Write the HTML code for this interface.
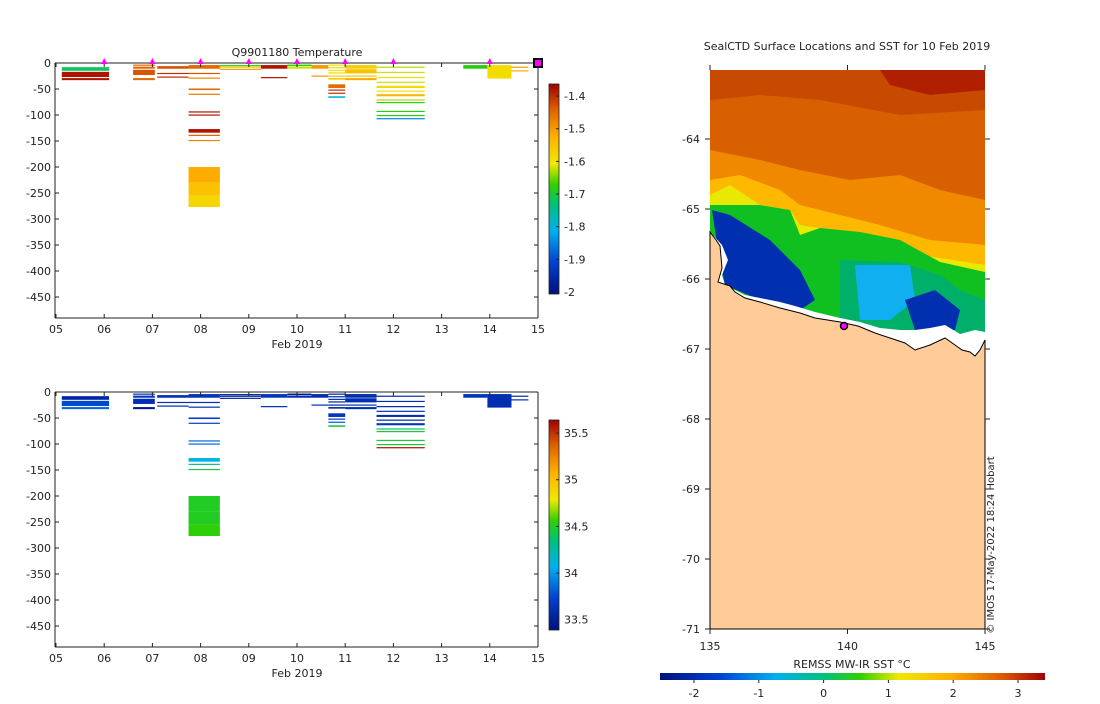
<!DOCTYPE html>
<html><head><meta charset="utf-8">
<style>
body{margin:0;background:#fff;width:1100px;height:700px;overflow:hidden;font-family:"DejaVu Sans","Liberation Sans",sans-serif;}
svg text{font-family:"DejaVu Sans","Liberation Sans",sans-serif;font-size:11px;fill:#222;}
</style></head>
<body>
<svg id="fig" width="1100" height="700" xmlns="http://www.w3.org/2000/svg">
<defs>
<linearGradient id="tempbar" x1="0" y1="1" x2="0" y2="0">
<stop offset="0" stop-color="#00107a"/><stop offset="0.15" stop-color="#0040d0"/><stop offset="0.3" stop-color="#00b0f0"/><stop offset="0.42" stop-color="#00c080"/><stop offset="0.52" stop-color="#30d000"/><stop offset="0.62" stop-color="#f0e800"/><stop offset="0.75" stop-color="#ffb000"/><stop offset="0.88" stop-color="#e06000"/><stop offset="1" stop-color="#a00000"/>
</linearGradient>
<linearGradient id="sstbar" x1="0" y1="0" x2="1" y2="0">
<stop offset="0" stop-color="#00107a"/><stop offset="0.15" stop-color="#0040d0"/><stop offset="0.3" stop-color="#00b0f0"/><stop offset="0.42" stop-color="#00c080"/><stop offset="0.52" stop-color="#30d000"/><stop offset="0.62" stop-color="#f0e800"/><stop offset="0.75" stop-color="#ffb000"/><stop offset="0.88" stop-color="#e06000"/><stop offset="1" stop-color="#a00000"/>
</linearGradient>
</defs>
<g id="top"></g>
<g id="bot"></g>
<g id="map">
<rect x="710" y="70" width="275" height="559" fill="#d86000"/>
<polygon points="710,70 985,70 985,110 900,115 820,100 760,95 710,100" fill="#c84a00"/>
<polygon points="880,70 985,70 985,90 930,95 890,85" fill="#b02000"/>
<polygon points="710,150 760,160 800,170 850,180 900,175 940,190 985,200 985,260 710,260" fill="#f08800"/>
<polygon points="710,180 740,175 780,190 800,205 840,215 880,225 930,240 985,245 985,320 710,320" fill="#ffb800"/>
<polygon points="710,195 730,185 760,205 790,210 800,225 830,230 870,240 920,255 985,265 985,320 710,320" fill="#e8e800"/>
<polygon points="710,205 760,205 790,210 800,235 820,228 860,232 900,240 940,262 985,272 985,340 710,340" fill="#10c020"/>
<polygon points="840,260 900,262 940,275 960,290 985,300 985,340 840,340" fill="#00b068"/>
<polygon points="855,265 910,265 915,300 890,320 860,320" fill="#10b0f0"/>
<polygon points="712,210 730,215 770,240 800,270 815,300 800,310 760,300 725,285 718,250" fill="#0030b0"/>
<polygon points="905,300 935,290 960,310 955,330 915,330" fill="#0030b0"/>
<polygon points="710,232 716,240 720,246 722,268 718,282 730,286 735,292 745,298 760,302 780,308 800,313 815,318 840,322 858,326 875,333 890,338 905,343 915,350 930,345 945,338 955,345 962,350 970,352 975,356 980,350 985,340 985,332 975,330 960,334 945,325 930,328 915,330 900,330 880,328 860,322 840,318 815,312 795,306 780,302 760,298 745,295 735,290 725,285 722,275 728,260 722,245" fill="#fff"/>
<polygon points="710,232 716,240 720,246 722,268 718,282 730,286 735,292 745,298 760,302 780,308 800,313 815,318 840,322 858,326 875,333 890,338 905,343 915,350 930,345 945,338 955,345 962,350 970,352 975,356 980,350 985,340 985,629 710,629" fill="#ffcc99" stroke="#000" stroke-width="1"/>
<circle cx="844" cy="326" r="3.5" fill="#ff00ff" stroke="#000" stroke-width="1.5"/>
<rect x="710" y="70" width="275" height="559" fill="none"/>
<text x="847" y="50" text-anchor="middle">SealCTD Surface Locations and SST for 10 Feb 2019</text>
<text transform="translate(994,545) rotate(-90)" text-anchor="middle" style="font-size:10px">© IMOS 17-May-2022 18:24 Hobart</text>
<rect x="660" y="673" width="385" height="7" fill="url(#sstbar)"/>
<text x="852" y="668" text-anchor="middle">REMSS MW-IR SST °C</text>
</g>
<g id="mapaxes"></g>
</svg>
<script>
// Profile data: time spans (days after Feb 05) and levels
const profStart=[0.12,1.6,2.1,2.75,3.4,4.25,4.8,5.3,5.65,6.0,6.65,8.45,8.95,9.45];
const profEnd=[1.1,2.05,2.75,3.4,4.25,4.8,5.3,5.65,6.0,6.65,7.65,8.95,9.45,9.8];
const levProf=[0,0,0, 1,1,1,1, 2,2,2, 3,3,3,3,3,3,3,3,3,3,3,3,3, 4,4,4, 5,5, 6,6, 7,7, 8,8,8,8,8,8,8,8,8,8, 9,9,9,9, 10,10,10,10,10,10,10,10,10,10,10,10, 11, 12, 13,13];
const levTop=[8,17,29, 3,7,13,29, 6,19,26, 4,19,28,49,59,93,99,127,138,148,200,230,255, 4,7,11, 4,27, 3,7, 4,24, 3,8,13,18,24,29,41,51,57,64, 4,12,24,29, 7,17,27,36,44,53,60,70,75,92,100,106, 4, 4, 7,14];
const levBot=[15,27,33, 5,11,23,33, 11,21,28, 11,21,30,52,61,95,101,134,140,150,230,255,277, 6,9,13, 11,29, 6,11, 11,26, 5,9,14,19,26,32,48,53,59,67, 11,20,26,33, 9,19,29,38,48,55,64,72,77,94,102,108, 11, 30, 9,16];
const levTemp=[-1.72,-1.38,-1.38, -1.45,-1.45,-1.43,-1.45, -1.43,-1.40,-1.40, -1.45,-1.43,-1.48,-1.45,-1.46,-1.38,-1.38,-1.38,-1.44,-1.48,-1.52,-1.55,-1.58, -1.68,-1.58,-1.5, -1.38,-1.38, -1.67,-1.62, -1.5,-1.5, -1.6,-1.58,-1.6,-1.58,-1.57,-1.56,-1.45,-1.40,-1.40,-1.8, -1.57,-1.55,-1.55,-1.52, -1.63,-1.62,-1.60,-1.62,-1.58,-1.60,-1.53,-1.63,-1.68,-1.68,-1.68,-1.85, -1.68, -1.59, -1.5,-1.52];
const levSal=[33.55,33.75,33.85, 33.6,33.65,33.6,33.45, 33.6,33.6,33.6, 33.65,33.6,33.6,33.7,33.7,33.85,33.85,34.1,34.3,34.45,34.5,34.5,34.55, 33.5,33.5,33.55, 33.65,33.6, 33.45,33.6, 33.6,33.6, 33.55,33.55,33.6,33.55,33.55,33.5,33.65,33.7,33.8,34.45, 33.6,33.6,33.6,33.6, 33.6,33.6,33.55,33.6,33.6,33.55,33.65,34.4,34.45,34.45,34.45,35.6, 33.65, 33.6, 33.6,33.6];
const markerDays=[1,2,3,4,5,6,7,9];
const tempTicks=[-1.4,-1.5,-1.6,-1.7,-1.8,-1.9,-2];
const salTicks=[35.5,35,34.5,34];
const salTickLabels=['35.5','35','34.5','34','33.5'];
const depthTicks=[0,-50,-100,-150,-200,-250,-300,-350,-400,-450];
const dayLabels=['05','06','07','08','09','10','11','12','13','14','15'];
const sstTicks=[-2,-1,0,1,2,3];
const latTicks=[-64,-65,-66,-67,-68,-69,-70,-71];
const lonTicks=[135,140,145];

const NS='http://www.w3.org/2000/svg';
function mk(tag,attrs,parent){const e=document.createElementNS(NS,tag);for(const k in attrs)e.setAttribute(k,attrs[k]);parent.appendChild(e);return e;}
const stops=[[0,[0,16,122]],[0.15,[0,64,208]],[0.3,[0,176,240]],[0.42,[0,192,128]],[0.52,[48,208,0]],[0.62,[240,232,0]],[0.75,[255,176,0]],[0.88,[224,96,0]],[1,[160,0,0]]];
function cmap(f){f=Math.max(0,Math.min(1,f));for(let i=1;i<stops.length;i++){if(f<=stops[i][0]){const a=stops[i-1],b=stops[i];const t=(f-a[0])/(b[0]-a[0]);const c=a[1].map((v,j)=>Math.round(v+(b[1][j]-v)*t));return 'rgb('+c.join(',')+')';}}return 'rgb(160,0,0)';}
const xDay=d=>56+d*48.2;

function panel(gid,y0,vmin,vmax,cbTop,cbBot,vals,ticks,tickLabels,title,prefix){
  const g=document.getElementById(gid);
  const yD=d=>y0+d*0.52;
  const bottom=y0+255;
  for(let i=0;i<levProf.length;i++){
    const p=levProf[i];
    const r=mk('rect',{x:xDay(profStart[p]),y:yD(levTop[i]),width:xDay(profEnd[p])-xDay(profStart[p]),height:Math.max(1.2,yD(levBot[i])-yD(levTop[i])),fill:cmap((vals[i]-vmin)/(vmax-vmin))},g);
    
    
  }
  const ax=mk('g',{},g);
  
  
  mk('line',{x1:55,y1:y0,x2:538,y2:y0,stroke:'#222'},ax);
  mk('line',{x1:55,y1:y0,x2:55,y2:bottom,stroke:'#222'},ax);
  mk('line',{x1:538,y1:y0,x2:538,y2:bottom,stroke:'#222'},ax);
  for(const t of depthTicks){const y=yD(-t);mk('line',{x1:55,y1:y,x2:59,y2:y,stroke:'#222'},ax);mk('line',{x1:538,y1:y,x2:534,y2:y,stroke:'#222'},ax);
    const tx=mk('text',{x:51,y:y+4,'text-anchor':'end'},ax);tx.textContent=t;}
  dayLabels.forEach((l,i)=>{const x=xDay(i);mk('line',{x1:x,y1:y0,x2:x,y2:y0+4,stroke:'#222'},ax);mk('line',{x1:x,y1:bottom,x2:x,y2:bottom-4,stroke:'#222'},ax);
    const tx=mk('text',{x:x,y:bottom+15,'text-anchor':'middle'},ax);tx.textContent=l;});
  mk('line',{x1:55,y1:bottom,x2:538,y2:bottom,stroke:'#222'},ax);
  const xl=mk('text',{x:297,y:bottom+30,'text-anchor':'middle'},ax);xl.textContent='Feb 2019';
  if(title){const tt=mk('text',{x:297,y:y0-7,'text-anchor':'middle','font-size':'12'},ax);tt.textContent=title;}
  // colorbar
  const cb=mk('rect',{x:549,y:cbTop,width:10,height:cbBot-cbTop,fill:'url(#tempbar)',stroke:'#222','stroke-width':0.8},g);
  
  
  tickLabels.forEach((lab,i)=>{const v=parseFloat(lab);const y=cbBot-(v-vmin)/(vmax-vmin)*(cbBot-cbTop);
    mk('line',{x1:559,y1:y,x2:556,y2:y,stroke:'#222'},g);
    const tx=mk('text',{x:564,y:y+4},g);tx.textContent=lab;});
}
panel('top',63,-2.006,-1.363,84,294,levTemp,tempTicks,['-1.4','-1.5','-1.6','-1.7','-1.8','-1.9','-2'],'Q9901180  Temperature','temp');
panel('bot',392,33.39,35.64,420,630,levSal,salTicks,salTickLabels,null,'sal');
const tg=document.getElementById('top');
markerDays.forEach(d=>{const m=mk('path',{d:'M'+(xDay(d)-3)+',64 L'+xDay(d)+',58 L'+(xDay(d)+3)+',64 Z',fill:'#ff00ff'},tg);
  
  });
const last=mk('rect',{x:xDay(10)-4,y:59,width:8,height:8,fill:'#ff00ff',stroke:'#000','stroke-width':2},tg);


// map axes
const mg=document.getElementById('mapaxes');
const latY=l=>139+(-64-l)*70;
const lonX=l=>710+(l-135)*27.5;
mk('rect',{x:710,y:70,width:275,height:559,fill:'none',stroke:'none'},mg);
latTicks.forEach(l=>{const y=latY(l);mk('line',{x1:705,y1:y,x2:710,y2:y,stroke:'#222'},mg);mk('line',{x1:985,y1:y,x2:990,y2:y,stroke:'#222'},mg);
  const t=mk('text',{x:700,y:y+4,'text-anchor':'end'},mg);t.textContent=l;});
lonTicks.forEach(l=>{const x=lonX(l);mk('line',{x1:x,y1:629,x2:x,y2:634,stroke:'#222'},mg);mk('line',{x1:x,y1:65,x2:x,y2:70,stroke:'#222'},mg);
  const t=mk('text',{x:x,y:650,'text-anchor':'middle'},mg);t.textContent=l;});
sstTicks.forEach(v=>{const x=694+(v+2)*64.8;mk('line',{x1:x,y1:680,x2:x,y2:683,stroke:'#222'},mg);
  const t=mk('text',{x:x,y:697,'text-anchor':'middle'},mg);t.textContent=v;});
</script>
</body></html>
